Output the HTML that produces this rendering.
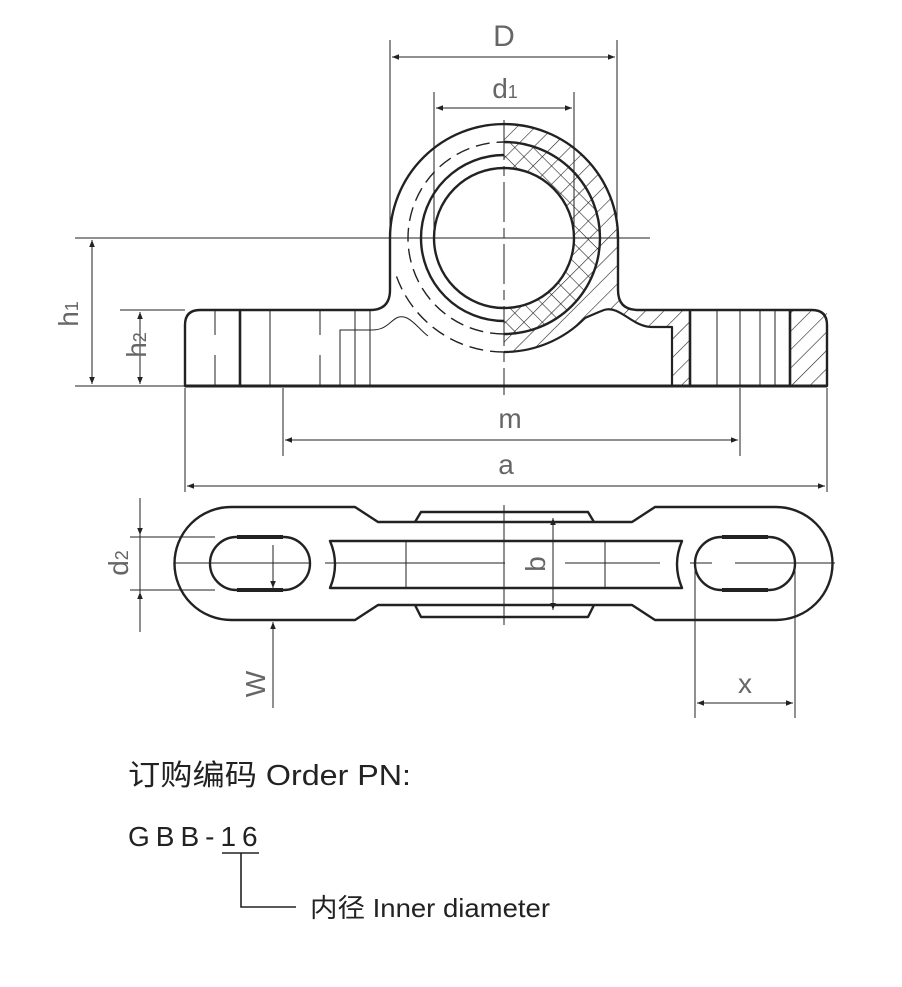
<!DOCTYPE html>
<html><head><meta charset="utf-8"><style>
html,body{margin:0;padding:0;background:#fff;}
svg{display:block}
.t{font-family:"Liberation Sans","Noto Sans CJK SC",sans-serif;}
</style></head><body>
<svg width="902" height="987" viewBox="0 0 902 987" xmlns="http://www.w3.org/2000/svg">
<defs>
<pattern id="h1" patternUnits="userSpaceOnUse" width="13" height="13" patternTransform="rotate(45)">
<line x1="0" y1="0" x2="0" y2="13" stroke="#222" stroke-width="1.2"/></pattern>
<pattern id="hx" patternUnits="userSpaceOnUse" width="13" height="13" patternTransform="rotate(45)">
<line x1="0" y1="0" x2="0" y2="13" stroke="#222" stroke-width="1.2"/><line x1="0" y1="0" x2="13" y2="0" stroke="#222" stroke-width="1.2"/></pattern>
<marker id="ar" viewBox="0 0 10 10" refX="10" refY="5" markerWidth="16" markerHeight="7" markerUnits="userSpaceOnUse" orient="auto-start-reverse"><path d="M0,1 L10,5 L0,9 z" fill="#222"/></marker>
<mask id="m1" maskUnits="userSpaceOnUse" x="0" y="0" width="902" height="987">
<path d="M504,124 A114,114 0 0 1 504,352 Z" fill="#fff"/>
<path d="M600,250 L618,250 L618,290 Q618,310 638,310 L672,310 L672,327 L652,327 C632,327 620,305 604,310 L585,318 L560,300 Z" fill="#fff"/>
<circle cx="504" cy="238" r="96" fill="#000"/>
</mask>
<mask id="m2" maskUnits="userSpaceOnUse" x="0" y="0" width="902" height="987">
<path d="M504,142 A96,96 0 0 1 504,334 Z" fill="#fff"/>
<circle cx="504" cy="238" r="70" fill="#000"/>
</mask>
</defs>

<rect x="500" y="120" width="200" height="240" fill="url(#h1)" mask="url(#m1)"/>
<rect x="500" y="138" width="110" height="200" fill="url(#hx)" mask="url(#m2)"/>
<rect x="672" y="310" width="18" height="76" fill="url(#h1)"/>
<rect x="790" y="310" width="37" height="76" fill="url(#h1)"/>

<g fill="none" stroke="#222" stroke-linejoin="round">
<path d="M185,386 L185,325 Q185,310 200,310 L370,310 Q390,310 390,290 L390,238 A114,114 0 0 1 618,238 L618,290 Q618,310 638,310 L812,310 Q827,310 827,325 L827,386 Z" stroke-width="2.4"/>
<line x1="185" y1="386" x2="827" y2="386" stroke-width="3"/>
<circle cx="504" cy="238" r="70" stroke-width="2.4"/>
<path d="M504,155 A83,83 0 0 0 504,321" stroke-width="2.4"/>
<path d="M504,142 A96,96 0 0 1 504,334" stroke-width="2.4"/>
<path d="M504,352 A114,114 0 0 0 585,318 C590,316 596,313 604,310 C620,305 632,327 652,327 L672,327 L672,386" stroke-width="2.2"/>
<path d="M504,334 A96,96 0 0 1 504,142" stroke-width="1.4" stroke-dasharray="14,7"/>
<path d="M504,352 A114,114 0 0 1 396,275" stroke-width="1.4" stroke-dasharray="14,7"/>
<path d="M340,386 L340,330 L372,330 C392,330 392,312 407,318 C415,322 420,330 428,336" stroke-width="1"/>
<line x1="240" y1="310" x2="240" y2="386" stroke-width="2.6"/>
<line x1="215" y1="310" x2="215" y2="335" stroke-width="1"/>
<line x1="215" y1="355" x2="215" y2="386" stroke-width="1"/>
<line x1="270" y1="310" x2="270" y2="386" stroke-width="1"/>
<line x1="320" y1="310" x2="320" y2="335" stroke-width="1"/>
<line x1="320" y1="355" x2="320" y2="386" stroke-width="1"/>
<line x1="355" y1="310" x2="355" y2="386" stroke-width="1"/>
<line x1="370" y1="310" x2="370" y2="386" stroke-width="1"/>
<line x1="690" y1="310" x2="690" y2="386" stroke-width="2.6"/>
<line x1="717" y1="310" x2="717" y2="386" stroke-width="1"/>
<line x1="740" y1="310" x2="740" y2="386" stroke-width="1"/>
<line x1="760" y1="310" x2="760" y2="386" stroke-width="1"/>
<line x1="775" y1="310" x2="775" y2="386" stroke-width="1"/>
<line x1="790" y1="310" x2="790" y2="386" stroke-width="2.6"/>
<line x1="75" y1="238" x2="650" y2="238" stroke-width="1"/>
<line x1="504" y1="120" x2="504" y2="395" stroke-width="1" stroke-dasharray="40,6,10,6"/>

<g stroke-width="1">
<line x1="390" y1="40" x2="390" y2="238"/><line x1="617" y1="40" x2="617" y2="238"/>
<line x1="392" y1="57" x2="615" y2="57" marker-start="url(#ar)" marker-end="url(#ar)"/>
<line x1="434" y1="92" x2="434" y2="238"/><line x1="574" y1="92" x2="574" y2="238"/>
<line x1="436" y1="108" x2="572" y2="108" marker-start="url(#ar)" marker-end="url(#ar)"/>
<line x1="75" y1="386" x2="185" y2="386"/>
<line x1="92" y1="240" x2="92" y2="384" marker-start="url(#ar)" marker-end="url(#ar)"/>
<line x1="120" y1="310" x2="185" y2="310"/>
<line x1="140" y1="312" x2="140" y2="384" marker-start="url(#ar)" marker-end="url(#ar)"/>
<line x1="283" y1="388" x2="283" y2="456"/><line x1="740" y1="388" x2="740" y2="456"/>
<line x1="285" y1="440" x2="738" y2="440" marker-start="url(#ar)" marker-end="url(#ar)"/>
<line x1="185" y1="388" x2="185" y2="492"/><line x1="827" y1="388" x2="827" y2="492"/>
<line x1="187" y1="486" x2="825" y2="486" marker-start="url(#ar)" marker-end="url(#ar)"/>
</g>

<path d="M231,507 L355,507 L378,522 L632,522 L655,507 L776,507 A56.5,56.5 0 0 1 776,620 L655,620 L632,605 L378,605 L355,620 L231,620 A56.5,56.5 0 0 1 231,507 Z" stroke-width="2.4"/>
<path d="M415,522 L421,512 L588,512 L594,522" stroke-width="2.4"/>
<path d="M415,605 L421,617 L588,617 L594,605" stroke-width="2.4"/>
<path d="M330,541 L682,541 Q672,564 682,588 L330,588 Q340,564 330,541 Z" stroke-width="2.4"/>
<rect x="210" y="537" width="100" height="53" rx="26.5" stroke-width="2.4"/>
<rect x="695" y="537" width="100" height="53" rx="26.5" stroke-width="2.4"/>
<line x1="237" y1="537" x2="283" y2="537" stroke-width="4"/><line x1="237" y1="590" x2="283" y2="590" stroke-width="4"/>
<line x1="722" y1="537" x2="768" y2="537" stroke-width="4"/><line x1="722" y1="590" x2="768" y2="590" stroke-width="4"/>
<g stroke-width="1">
<line x1="175" y1="563" x2="310" y2="563"/><line x1="325" y1="563" x2="505" y2="563"/>
<line x1="565" y1="563" x2="660" y2="563"/><line x1="690" y1="563" x2="712" y2="563"/><line x1="735" y1="563" x2="835" y2="563"/>
<line x1="504" y1="505" x2="504" y2="625"/>
<line x1="406" y1="541" x2="406" y2="588"/><line x1="605" y1="541" x2="605" y2="588"/>
<line x1="553" y1="518" x2="553" y2="610" marker-start="url(#ar)" marker-end="url(#ar)"/>
<line x1="130" y1="537" x2="215" y2="537"/><line x1="130" y1="590" x2="215" y2="590"/>
<line x1="140" y1="498" x2="140" y2="535" marker-end="url(#ar)"/>
<line x1="140" y1="632" x2="140" y2="592" marker-end="url(#ar)"/>
<line x1="140" y1="535" x2="140" y2="592"/>
<line x1="273" y1="545" x2="273" y2="588" marker-end="url(#ar)"/>
<line x1="273" y1="708" x2="273" y2="622" marker-end="url(#ar)"/>
<line x1="695" y1="565" x2="695" y2="718"/><line x1="795" y1="565" x2="795" y2="718"/>
<line x1="697" y1="703" x2="793" y2="703" marker-start="url(#ar)" marker-end="url(#ar)"/>
</g>
</g>

<g class="t" fill="#666" font-size="30" text-anchor="middle">
<text x="504" y="46">D</text>
<text x="505" y="98" font-size="28">d<tspan font-size="18">1</tspan></text>
<text x="510" y="428" font-size="28">m</text>
<text x="506" y="474" font-size="28">a</text>
<text x="745" y="693" font-size="28">x</text>
<text transform="translate(78,314) rotate(-90)" font-size="28">h<tspan font-size="18">1</tspan></text>
<text transform="translate(146,345) rotate(-90)" font-size="28">h<tspan font-size="18">2</tspan></text>
<text transform="translate(128,563) rotate(-90)" font-size="28">d<tspan font-size="18">2</tspan></text>
<text transform="translate(545,564) rotate(-90)" font-size="28">b</text>
<text transform="translate(265,684) rotate(-90)" font-size="28">W</text>
</g>

<g class="t" fill="#222">
<text x="128" y="785" font-size="29" textLength="283" lengthAdjust="spacingAndGlyphs">订购编码 Order PN:</text>
<text x="128" y="846" font-size="28" letter-spacing="6">GBB-16</text>
<text x="310" y="917" font-size="26" textLength="240" lengthAdjust="spacingAndGlyphs">内径 Inner diameter</text>
</g>
<g stroke="#222" stroke-width="1.6" fill="none">
<line x1="222" y1="853" x2="259" y2="853"/>
<path d="M241,853 L241,907 L296,907"/>
</g>
</svg>
</body></html>
